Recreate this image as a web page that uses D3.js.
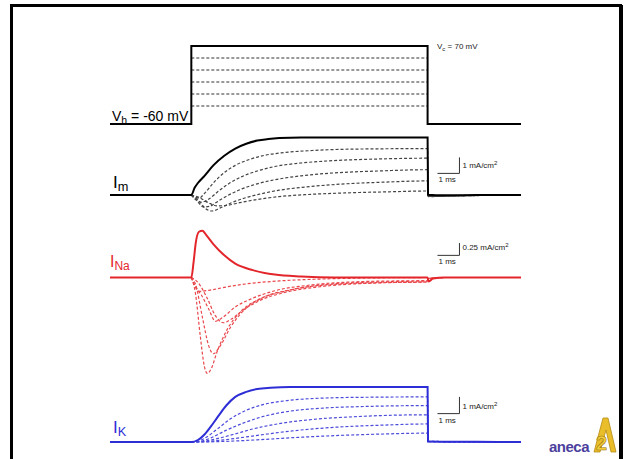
<!DOCTYPE html>
<html>
<head>
<meta charset="utf-8">
<script src="https://cdn.jsdelivr.net/npm/d3@7"></script>
<style>
  body { margin: 0; background: #fff; }
  svg text { font-family: "Liberation Sans", Arial, sans-serif; }
</style>
</head>
<body>
<div id="chart"></div>
<script>
// pulse timing (ms) and command voltages (mV)
const pulseOn = 0;
const pulseOff = 10.75;
const holdingV = -60;
const stepVoltages = [70, 50, 30, 10, -10, -30];

// Im (mA/cm2): [time ms, current]
const imSolid = [[-3.7,0],[0,0],[0.15,0.45],[0.3,0.75],[0.6,1.2],[1.0,1.85],[1.5,2.45],[2.0,2.9],[2.5,3.2],[3.0,3.4],[3.5,3.5],[4.0,3.56],[5.0,3.6],[7.0,3.6],[10.75,3.6],[10.77,0.02],[11.5,-0.02],[13,0],[15,0]];
const imDash50 = [[0,0],[0.15,-0.12],[0.35,-0.2],[0.6,0.1],[1.0,0.75],[1.5,1.4],[2.0,1.85],[2.6,2.2],[3.3,2.47],[4.2,2.65],[5.5,2.78],[7.5,2.87],[10.75,2.9],[10.77,-0.04],[12,-0.03],[15,0]];
const imDash30 = [[0,0],[0.2,-0.28],[0.45,-0.45],[0.8,-0.25],[1.2,0.2],[1.7,0.7],[2.3,1.15],[3.0,1.5],[3.8,1.78],[5.0,2.0],[6.5,2.15],[8.5,2.25],[10.75,2.3],[10.77,-0.06],[12,-0.04],[15,0]];
const imDash10 = [[0,0],[0.25,-0.35],[0.55,-0.75],[0.85,-0.7],[1.2,-0.4],[1.7,0.0],[2.3,0.38],[3.0,0.7],[3.9,0.98],[5.0,1.2],[6.5,1.38],[8.5,1.5],[10.75,1.58],[10.77,-0.08],[12,-0.05],[15,0]];
const imDashM10 = [[0,0],[0.3,-0.3],[0.65,-0.85],[0.95,-1.0],[1.3,-0.82],[1.8,-0.5],[2.4,-0.2],[3.1,0.05],[4.0,0.3],[5.2,0.5],[6.8,0.68],[8.7,0.8],[10.75,0.88],[10.77,-0.1],[12,-0.06],[15,0]];
const imDashM30 = [[0,0],[0.35,-0.15],[0.8,-0.5],[1.2,-0.68],[1.6,-0.65],[2.2,-0.48],[3.0,-0.28],[4.0,-0.1],[5.3,0.03],[7.0,0.13],[9.0,0.2],[10.75,0.25],[10.77,-0.08],[12,-0.05],[15,0]];

// INa (mA/cm2)
const naSolid = [[-3.7,0],[0,0],[0.1,0.3],[0.2,0.7],[0.35,0.93],[0.5,0.95],[0.7,0.85],[1.0,0.68],[1.5,0.45],[2.0,0.28],[2.8,0.15],[3.8,0.06],[5.0,0.02],[6.5,0],[10.75,0],[10.8,-0.08],[11.0,-0.02],[11.5,0],[15,0]];
const naDash50 = [[0,0],[0.2,-0.2],[0.4,-0.28],[0.8,-0.26],[1.5,-0.2],[2.5,-0.13],[4.0,-0.07],[6.0,-0.03],[8.0,-0.01],[10.75,0]];
const naDash30 = [[0,0],[0.2,-0.2],[0.45,-0.35],[0.8,-0.65],[1.1,-0.89],[1.4,-0.82],[2.0,-0.6],[2.8,-0.42],[3.8,-0.27],[5.5,-0.15],[8.0,-0.08],[10.75,-0.06],[10.8,-0.02],[11.5,0]];
const naDash10 = [[0,0],[0.18,-0.3],[0.41,-1.2],[0.59,-1.8],[0.73,-1.95],[0.91,-1.85],[1.18,-1.5],[1.64,-1.05],[2.23,-0.7],[3.14,-0.43],[4.36,-0.27],[6.45,-0.13],[9.5,-0.08],[10.75,-0.07],[10.8,-0.02],[11.5,0]];
const naDashM10 = [[0,0],[0.2,-0.15],[0.5,-0.8],[0.8,-1.4],[1.0,-1.55],[1.3,-1.4],[1.8,-1.0],[2.5,-0.62],[3.3,-0.4],[4.5,-0.25],[6.5,-0.14],[9.0,-0.1],[10.75,-0.09],[10.8,-0.02],[11.5,0]];
const naDashM30 = [[0,0],[0.3,-0.1],[0.7,-0.4],[1.1,-0.78],[1.45,-0.92],[1.8,-0.85],[2.4,-0.65],[3.2,-0.45],[4.3,-0.3],[6.0,-0.18],[8.5,-0.11],[10.75,-0.09],[10.8,-0.02],[11.5,0]];

// IK (mA/cm2)
const kSolid = [[-3.7,0],[0,0],[0.3,0.12],[0.6,0.45],[0.9,0.95],[1.2,1.5],[1.6,2.2],[2.0,2.7],[2.5,3.0],[3.0,3.17],[3.6,3.25],[4.5,3.3],[10.75,3.3],[10.77,0.03],[11.5,0.02],[13,0.01],[15,0]];
const kDash50 = [[0,0],[0.3,0.05],[0.7,0.3],[1.2,0.8],[1.8,1.4],[2.5,1.9],[3.3,2.25],[4.5,2.5],[6.0,2.63],[8.0,2.68],[10.75,2.7],[10.77,0.05],[12,0.02],[15,0]];
const kDash30 = [[0,0],[0.4,0.04],[0.9,0.25],[1.5,0.65],[2.3,1.1],[3.2,1.5],[4.5,1.85],[6.0,2.03],[8.0,2.13],[10.75,2.18],[10.77,0.05],[12,0.02],[15,0]];
const kDash10 = [[0,0],[0.5,0.03],[1.1,0.18],[1.9,0.45],[2.8,0.78],[4.0,1.1],[5.5,1.35],[7.5,1.52],[10.75,1.63],[10.77,0.04],[12,0.02],[15,0]];
const kDashM10 = [[0,0],[0.6,0.02],[1.3,0.1],[2.2,0.25],[3.3,0.45],[4.7,0.68],[6.5,0.88],[8.5,1.0],[10.75,1.08],[10.77,0.03],[12,0.01],[15,0]];
const kDashM30 = [[0,0],[0.8,0.01],[1.8,0.05],[3.0,0.13],[4.5,0.25],[6.5,0.38],[8.5,0.47],[10.75,0.53],[10.77,0.02],[12,0.01],[15,0]];

const w = 625;
const h = 459;

const xScale = d3.scaleLinear().domain([-3.7, 15]).range([110, 521]);
const yV = d3.scaleLinear().domain([-60, 70]).range([124, 46]);
const yIm = d3.scaleLinear().domain([0, 1]).range([195, 179]);
const yNa = d3.scaleLinear().domain([0, 0.25]).range([277.5, 265.2]);
const yK = d3.scaleLinear().domain([0, 1]).range([442, 425.3]);

const red = "#e3262b";
const blue = "#2e2ed6";

const svg = d3.select("#chart")
  .append("svg")
  .attr("width", w)
  .attr("height", h);

// frame
svg.append("rect").attr("width", w).attr("height", h).attr("fill", "#fff");
svg.append("path")
  .attr("d", "M11.5,470 L11.5,5.5 L620.5,5.5 L620.5,470")
  .attr("fill", "none").attr("stroke", "#000").attr("stroke-width", 3);
svg.append("line").attr("x1", 622).attr("x2", 622).attr("y1", 5).attr("y2", 470)
  .attr("stroke", "#000").attr("stroke-width", 2);

// voltage protocol
const vLine = d3.line().x(d => xScale(d[0])).y(d => yV(d[1]));
const vTrace = v => [[-3.7, holdingV], [pulseOn, holdingV], [pulseOn, v], [pulseOff, v], [pulseOff, holdingV], [15, holdingV]];

svg.selectAll(".vdash")
  .data(stepVoltages.slice(1))
  .enter()
  .append("path")
  .attr("d", v => vLine([[pulseOn, v], [pulseOff, v]]))
  .attr("fill", "none")
  .attr("stroke", "#333")
  .attr("stroke-width", 1)
  .attr("stroke-dasharray", "3,2");

svg.append("path")
  .attr("d", vLine(vTrace(stepVoltages[0])))
  .attr("fill", "none")
  .attr("stroke", "#000")
  .attr("stroke-width", 2);

// current traces
function drawPanel(yScale, solid, dashes, color, dashColor) {
  const line = d3.line()
    .x(d => xScale(d[0]))
    .y(d => yScale(d[1]))
    .curve(d3.curveMonotoneX);
  svg.append("g").selectAll("path")
    .data(dashes)
    .enter()
    .append("path")
    .attr("d", line)
    .attr("fill", "none")
    .attr("stroke", dashColor)
    .attr("stroke-width", 1.2)
    .attr("stroke-dasharray", "3,2");
  svg.append("path")
    .attr("d", line(solid))
    .attr("fill", "none")
    .attr("stroke", color)
    .attr("stroke-width", 2);
}

drawPanel(yIm, imSolid, [imDash50, imDash30, imDash10, imDashM10, imDashM30], "#000", "#444");
drawPanel(yNa, naSolid, [naDash50, naDash30, naDash10, naDashM10, naDashM30], red, "#e9474c");
drawPanel(yK, kSolid, [kDash50, kDash30, kDash10, kDashM10, kDashM30], blue, "#4b4bdc");

// scale bars (1 ms horizontal, amplitude vertical)
function scaleBar(yScale, lo, hi, label) {
  const x0 = xScale(11.2), x1 = xScale(12.2);
  svg.append("path")
    .attr("d", `M${x0},${yScale(lo)} L${x1},${yScale(lo)} L${x1},${yScale(hi)}`)
    .attr("fill", "none").attr("stroke", "#333").attr("stroke-width", 1);
  const t = svg.append("text")
    .attr("x", x1 + 3).attr("y", yScale(lo) - 5)
    .attr("font-size", 8).attr("fill", "#222");
  t.append("tspan").text(label);
  t.append("tspan").attr("dy", -3).attr("font-size", 6).text("2");
  svg.append("text")
    .attr("x", x0 + 1).attr("y", yScale(lo) + 9)
    .attr("font-size", 8).attr("fill", "#222")
    .text("1 ms");
}
scaleBar(yIm, 1.35, 2.35, "1 mA/cm");
scaleBar(yNa, 0.45, 0.70, "0.25 mA/cm");
scaleBar(yK, 1.7, 2.7, "1 mA/cm");

// trace labels
function traceLabel(x, y, parts, color, size) {
  const t = svg.append("text").attr("x", x).attr("y", y).attr("fill", color).attr("font-size", size);
  t.append("tspan").text(parts[0]);
  t.append("tspan").attr("dy", 3).attr("font-size", size * 0.75).text(parts[1]);
  if (parts[2]) t.append("tspan").attr("dy", -3).text(parts[2]);
}
traceLabel(112, 121, ["V", "h", " = -60 mV"], "#000", 14);
traceLabel(113, 188, ["I", "m"], "#000", 17);
traceLabel(110, 267, ["I", "Na"], red, 16);
traceLabel(113, 433, ["I", "K"], blue, 17);

const vc = svg.append("text").attr("x", 437).attr("y", 49).attr("font-size", 8).attr("fill", "#222");
vc.append("tspan").text("V");
vc.append("tspan").attr("dy", 2).attr("font-size", 6).text("c");
vc.append("tspan").attr("dy", -2).text(" = 70 mV");

// logo
svg.append("text")
  .attr("x", 549).attr("y", 452)
  .attr("font-size", 15).attr("font-weight", "bold")
  .attr("fill", "#4b3f9e").attr("letter-spacing", -0.5)
  .text("aneca");
svg.append("path")
  .attr("d", "M594,452 L603,418 L608,418 L616,452 L611,452 L606,430 L600,452 Z")
  .attr("fill", "#e9be2a").attr("stroke", "#b58a14").attr("stroke-width", 0.8);
svg.append("text")
  .attr("x", 596).attr("y", 450)
  .attr("font-size", 20).attr("font-weight", "bold")
  .attr("fill", "#f1cc3a").attr("stroke", "#a07812").attr("stroke-width", 0.6)
  .text("2");
</script>
</body>
</html>
